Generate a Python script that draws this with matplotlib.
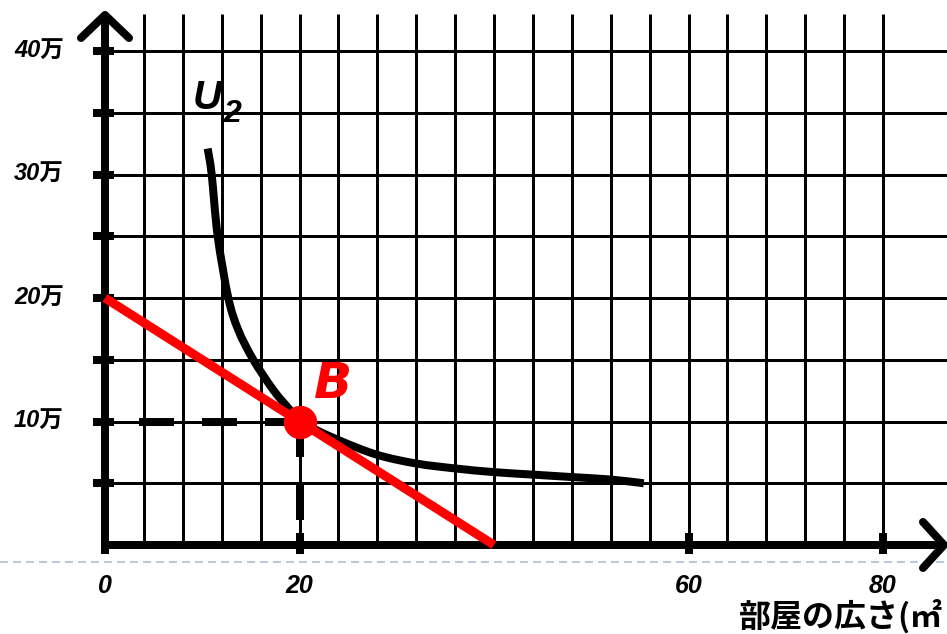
import matplotlib
matplotlib.use("Agg")
import matplotlib.pyplot as plt
from matplotlib.path import Path
from matplotlib.patches import PathPatch
import numpy as np

plt.rcParams['lines.scale_dashes'] = False

# ---- data ----
x_tick_values = [0, 20, 60, 80]
x_tick_labels = ["0", "20", "60", "80"]
y_tick_values = [10, 20, 30, 40]          # in 万
y_tick_labels = ["10万", "20万", "30万", "40万"]
x_grid = list(range(4, 81, 4))
y_grid = list(range(5, 41, 5))
y_axis_ticks = list(range(5, 41, 5))
x_axis_ticks = [0, 20, 60, 80]

budget_x = [0, 40]
budget_y = [20, 0]

u2_x = [10.56, 10.97, 11.59, 12.68, 13.71, 15.25, 17.31, 19.02, 20, 24, 28, 32, 36, 40, 44, 48, 52, 55.4]
u2_y = [32.1, 30.0, 25.0, 20.0, 17.4, 15.0, 12.55, 10.93, 10.0, 8.5, 7.3, 6.6, 6.2, 5.9, 5.7, 5.5, 5.3, 5.0]

point_b = (20, 10)

# ---- figure ----
W, H = 947, 634
fig = plt.figure(figsize=(W / 100, H / 100), dpi=100)
ax = fig.add_axes([0, 0, 1, 1])
sx = 9.725   # px per x unit
sy = 12.35   # px per 万
x0px, y0px = 105, 545
ax.set_xlim(-x0px / sx, (W - x0px) / sx)
ax.set_ylim(-(H - y0px) / sy, y0px / sy)
ax.axis('off')

def px2x(p):
    return (p - x0px) / sx

def px2y(p):
    return (y0px - p) / sy

PT = 72 / 100  # points per pixel

grid_top = px2y(14)
grid_right = px2x(W)
for gx in x_grid:
    ax.plot([gx, gx], [0, grid_top], color='black', lw=3 * PT, solid_capstyle='butt', zorder=1)
for gy in y_grid:
    ax.plot([0, grid_right], [gy, gy], color='black', lw=3 * PT, solid_capstyle='butt', zorder=1)

# blue dashed decoration line
ax.plot([ax.get_xlim()[0], grid_right], [px2y(562), px2y(562)], color='#a9bdd2', lw=1.6 * PT,
        dashes=(8 * PT, 5 * PT), zorder=1)

# axes
axis_lw = 8 * PT
ytip = px2y(15)
xtip = px2x(944)
ax.plot([0, 0], [0, ytip], color='black', lw=axis_lw, solid_capstyle='butt', zorder=3)
ax.plot([0, xtip], [0, 0], color='black', lw=axis_lw, solid_capstyle='butt', zorder=3)
ax.plot([px2x(81), 0, px2x(129)], [px2y(38), ytip, px2y(38)], color='black', lw=axis_lw,
        solid_capstyle='round', solid_joinstyle='round', zorder=3)
ax.plot([px2x(923), xtip, px2x(923)], [px2y(522), 0, px2y(568)], color='black', lw=axis_lw,
        solid_capstyle='round', solid_joinstyle='round', zorder=3)

# tick marks
for t in y_axis_ticks:
    ax.plot([px2x(93), px2x(114)], [t, t], color='black', lw=8 * PT, solid_capstyle='butt', zorder=3)
for t in x_axis_ticks:
    ax.plot([t, t], [px2y(533), px2y(554)], color='black', lw=8 * PT, solid_capstyle='butt', zorder=3)

# dashed guide lines from B
dash = (35 * PT, 28 * PT)
ax.plot([point_b[0], 0], [point_b[1], point_b[1]], color='black', lw=8 * PT, dashes=dash,
        solid_capstyle='butt', zorder=2)
ax.plot([point_b[0], point_b[0]], [point_b[1], 0], color='black', lw=8 * PT, dashes=dash,
        solid_capstyle='butt', zorder=2)

# U2 curve drawn as a smooth Bezier path through the read points
pts = np.column_stack([u2_x, u2_y])
verts = [tuple(pts[0])]
codes = [Path.MOVETO]
n = len(pts)
for i in range(n - 1):
    p0 = pts[i - 1] if i > 0 else pts[i]
    p1 = pts[i]
    p2 = pts[i + 1]
    p3 = pts[i + 2] if i + 2 < n else pts[i + 1]
    c1 = p1 + (p2 - p0) / 6.0
    c2 = p2 - (p3 - p1) / 6.0
    verts += [tuple(c1), tuple(c2), tuple(p2)]
    codes += [Path.CURVE4, Path.CURVE4, Path.CURVE4]
ax.add_patch(PathPatch(Path(verts, codes), facecolor='none', edgecolor='black', lw=8 * PT,
                       capstyle='butt', joinstyle='round', zorder=4))

# budget line
ax.plot(budget_x, budget_y, color='#ff0000', lw=9 * PT, solid_capstyle='butt', zorder=5)
# point B
ax.plot([point_b[0]], [point_b[1]], 'o', color='#ff0000', markersize=32 * PT, zorder=6)

fam = ['Liberation Sans', 'Noto Sans CJK JP', 'DejaVu Sans']
for v, lab in zip(y_tick_values, y_tick_labels):
    ax.text(px2x(39), v, lab, ha='center', va='center', fontsize=17, fontweight='bold',
            style='italic', family=fam, zorder=7)
for v, lab in zip(x_tick_values, x_tick_labels):
    ax.text(v, px2y(586), lab, ha='center', va='center', fontsize=18, fontweight='bold',
            style='italic', family=fam, zorder=7)

ax.text(px2x(739), px2y(617), "部屋の広さ(㎡", ha='left', va='center', fontsize=23,
        fontweight='bold', family=['Noto Sans CJK JP', 'DejaVu Sans'], zorder=7, clip_on=False)

ax.text(px2x(207), px2y(98), "U", ha='center', va='center', fontsize=29, fontweight='bold',
        style='italic', family=fam, zorder=7)
ax.text(px2x(232), px2y(114), "2", ha='center', va='center', fontsize=23, fontweight='bold',
        style='italic', family=fam, zorder=7)
ax.text(px2x(333), px2y(384), "B", ha='center', va='center', fontsize=36, fontweight='bold',
        style='italic', family=['DejaVu Sans'], color='#ff0000', zorder=7)

fig.savefig("out.png", dpi=100)
